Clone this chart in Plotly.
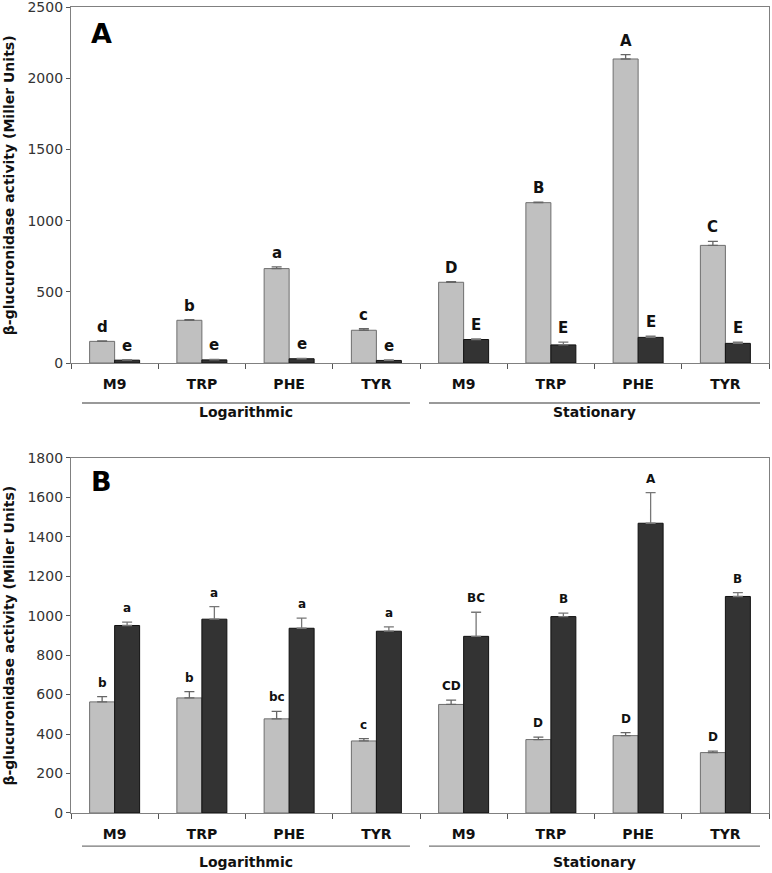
import plotly.graph_objects as go

# ---------------- data ----------------
media = ["M9", "TRP", "PHE", "TYR"]
phases = ["Logarithmic", "Stationary"]

# Panel A
a_light = [152, 300, 663, 230, 567, 1126, 2135, 826]
a_light_err = [3, 5, 12, 12, 4, 4, 30, 28]
a_dark = [20, 22, 30, 18, 165, 127, 180, 138]
a_dark_err = [3, 3, 3, 3, 5, 20, 8, 8]
a_light_lbl = ["d", "b", "a", "c", "D", "B", "A", "C"]
a_dark_lbl = ["e", "e", "e", "e", "E", "E", "E", "E"]

# Panel B
b_light = [563, 583, 477, 365, 550, 372, 392, 306]
b_light_err = [27, 32, 38, 12, 22, 12, 15, 7]
b_dark = [950, 982, 936, 921, 895, 995, 1468, 1097]
b_dark_err = [17, 64, 51, 22, 122, 18, 155, 20]
b_light_lbl = ["b", "b", "bc", "c", "CD", "D", "D", "D"]
b_dark_lbl = ["a", "a", "a", "a", "BC", "B", "A", "B"]

y_title = "β-glucuronidase activity (Miller Units)"

cats = [f"{p} {m}" for p in phases for m in media]
cat_text = [f"<b>{m}</b>" for p in phases for m in media]

FONT = "DejaVu Sans"
LIGHT = "#c0c0c0"
DARK = "#333333"

fig = go.Figure()


def add_panel(light, lerr, dark, derr, xa, ya):
    fig.add_trace(go.Bar(
        x=cats, y=light, xaxis=xa, yaxis=ya,
        marker=dict(color=LIGHT, line=dict(color="#6e6e6e", width=1)),
        error_y=dict(type="data", array=lerr, arrayminus=[0] * len(lerr), symmetric=False,
                     color="#666666", thickness=1.3, width=5),
        showlegend=False, hoverinfo="skip"))
    fig.add_trace(go.Bar(
        x=cats, y=dark, xaxis=xa, yaxis=ya,
        marker=dict(color=DARK, line=dict(color="#111111", width=1)),
        error_y=dict(type="data", array=derr, arrayminus=[0] * len(derr), symmetric=False,
                     color="#777777", thickness=1.3, width=5),
        showlegend=False, hoverinfo="skip"))


add_panel(a_light, a_light_err, a_dark, a_dark_err, "x", "y")
add_panel(b_light, b_light_err, b_dark, b_dark_err, "x2", "y2")

annotations = []
OFF = 0.1435


def add_letters(vals, errs, lbls, side, xref, yref, size):
    for i, (v, e, t) in enumerate(zip(vals, errs, lbls)):
        annotations.append(dict(
            x=i + side * OFF, y=v + e, xref=xref, yref=yref, text=f"<b>{t}</b>",
            showarrow=False, yanchor="middle", yshift=14,
            font=dict(family=FONT, size=size, color="#111111")))


add_letters(a_light, a_light_err, a_light_lbl, -1, "x", "y", 15)
add_letters(a_dark, a_dark_err, a_dark_lbl, 1, "x", "y", 15)
add_letters(b_light, b_light_err, b_light_lbl, -1, "x2", "y2", 12)
add_letters(b_dark, b_dark_err, b_dark_lbl, 1, "x2", "y2", 12)

# y-axis titles (placed as annotations for exact position)
for yc in [0.7792, 0.2204]:
    annotations.append(dict(x=-0.0885, y=yc, xref="paper", yref="paper",
                            text=f"<b>{y_title}</b>", textangle=-90, showarrow=False,
                            xanchor="center", yanchor="middle",
                            font=dict(family=FONT, size=14, color="#111111")))

# panel letters
annotations.append(dict(x=0.044, y=0.9666, xref="paper", yref="paper", text="<b>A</b>",
                        showarrow=False, xanchor="center", yanchor="middle",
                        font=dict(family=FONT, size=27, color="#000")))
annotations.append(dict(x=0.044, y=0.4110, xref="paper", yref="paper", text="<b>B</b>",
                        showarrow=False, xanchor="center", yanchor="middle",
                        font=dict(family=FONT, size=27, color="#000")))

# group labels and lines
shapes = []
for xr, line_y, lab_y in [("x", 0.5087, 0.4975), ("x2", -0.041, -0.0608)]:
    for (x0, x1), ph in zip([(-0.374, 3.385), (3.603, 7.397)], phases):
        shapes.append(dict(type="line", xref=xr, yref="paper", x0=x0, x1=x1,
                           y0=line_y, y1=line_y, line=dict(color="#777777", width=1.3)))
        annotations.append(dict(x=(x0 + x1) / 2, y=lab_y, xref=xr, yref="paper",
                                text=f"<b>{ph}</b>", showarrow=False, yanchor="middle",
                                font=dict(family=FONT, size=14, color="#111111")))

xaxis_common = dict(
    type="category", tickson="boundaries", tickmode="array", tickvals=cats, ticktext=cat_text,
    ticks="outside", ticklen=5, tickcolor="#555555", showline=True, linecolor="#808080",
    linewidth=1.3, mirror=True, showgrid=False, zeroline=False, automargin=False,
    ticklabelstandoff=8,
    tickfont=dict(family=FONT, size=14, color="#111111"), range=[-0.5, 7.5])

yaxis_common = dict(
    ticks="outside", ticklen=4, tickcolor="#555555", showline=True, linecolor="#808080",
    linewidth=1.3, mirror=True, showgrid=False, zeroline=False, automargin=False,
    ticklabeloverflow="allow",
    tickfont=dict(family=FONT, size=14, color="#333333"))

fig.update_layout(
    width=772, height=873, autosize=False,
    margin=dict(l=71, r=3, t=7, b=60, autoexpand=False),
    paper_bgcolor="white", plot_bgcolor="white",
    barmode="group", bargap=0.427, bargroupgap=0,
    showlegend=False,
    xaxis=dict(**xaxis_common, domain=[0, 1], anchor="y"),
    yaxis=dict(**yaxis_common, domain=[0.5583, 1], range=[0, 2500], dtick=500, anchor="x"),
    xaxis2=dict(**xaxis_common, domain=[0, 1], anchor="y2"),
    yaxis2=dict(**yaxis_common, domain=[0, 0.4408], range=[0, 1800], dtick=200, anchor="x2"),
    annotations=annotations, shapes=shapes,
    font=dict(family=FONT),
)

fig.write_html(
    "out.html",
    config={"responsive": False, "displayModeBar": False},
    post_script="document.body.style.margin='0';document.body.style.overflow='hidden';",
)
